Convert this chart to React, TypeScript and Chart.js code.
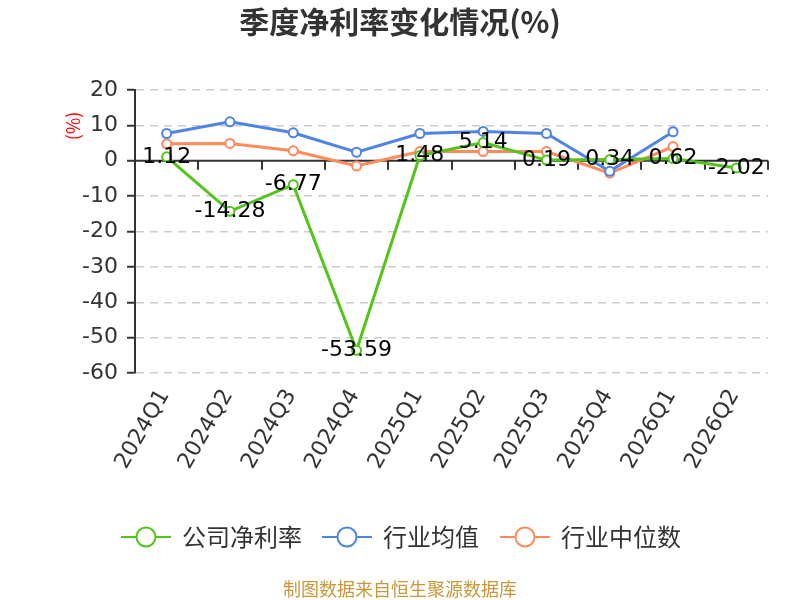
import { useEffect, useRef } from 'react';
import { Chart, registerables } from 'chart.js';

Chart.register(...registerables);

// 季度
const quarters = ['2024Q1', '2024Q2', '2024Q3', '2024Q4', '2025Q1', '2025Q2', '2025Q3', '2025Q4', '2026Q1', '2026Q2'];
// 公司净利率 (%)
const companyMargin = [1.12, -14.28, -6.77, -53.59, 1.48, 5.14, 0.19, 0.34, 0.62, -2.02];
// 行业均值 (%)
const industryAvg = [7.7, 11.0, 7.9, 2.4, 7.7, 8.3, 7.7, -3.0, 8.2, null];
// 行业中位数 (%)
const industryMedian = [4.8, 4.9, 2.8, -1.5, 2.6, 2.6, 2.6, -3.5, 4.0, null];
const yTicks = [20, 10, 0, -10, -20, -30, -40, -50, -60];

const GREEN = '#52c41a';
const BLUE = '#4f83e6';
const ORANGE = '#ff8a5b';
const CJK = "'Noto Sans CJK SC', 'Noto Sans', sans-serif";
const NUM = "'DejaVu Sans', sans-serif";

const legendItems = [
  { label: '公司净利率', color: GREEN, x: 121 },
  { label: '行业均值', color: BLUE, x: 322 },
  { label: '行业中位数', color: ORANGE, x: 500 },
];

// 标题、图例、零轴、数据标签
const decorPlugin = {
  id: 'decor',
  beforeDatasetsDraw(chart: Chart) {
    const { ctx, chartArea, scales } = chart;
    const y0 = scales.y.getPixelForValue(0);
    const band = (chartArea.right - chartArea.left) / quarters.length;
    ctx.save();
    ctx.strokeStyle = '#333';
    ctx.lineWidth = 2;
    ctx.beginPath();
    ctx.moveTo(chartArea.left, y0);
    ctx.lineTo(chartArea.right, y0);
    for (let i = 1; i <= quarters.length; i++) {
      const x = Math.round(chartArea.left + i * band);
      ctx.moveTo(x, y0);
      ctx.lineTo(x, y0 + 9);
    }
    ctx.stroke();
    ctx.restore();
  },
  afterDatasetsDraw(chart: Chart) {
    const { ctx } = chart;
    const meta = chart.getDatasetMeta(0);
    ctx.save();
    ctx.font = `22px ${NUM}`;
    ctx.fillStyle = '#000';
    ctx.textAlign = 'center';
    ctx.textBaseline = 'middle';
    meta.data.forEach((pt, i) => {
      ctx.fillText(String(companyMargin[i]), pt.x, pt.y);
    });
    ctx.restore();
  },
  afterDraw(chart: Chart) {
    const { ctx } = chart;
    ctx.save();
    ctx.fillStyle = '#333';
    ctx.font = `bold 30px ${CJK}`;
    ctx.textAlign = 'center';
    ctx.textBaseline = 'middle';
    ctx.fillText('季度净利率变化情况(%)', 400, 22);

    ctx.save();
    ctx.translate(73, 126);
    ctx.rotate(-Math.PI / 2);
    ctx.fillStyle = '#ff0000';
    ctx.font = `18px ${CJK}`;
    ctx.fillText('(%)', 0, 0);
    ctx.restore();

    legendItems.forEach((item) => {
      const cy = 537;
      ctx.strokeStyle = item.color;
      ctx.lineWidth = 2;
      ctx.beginPath();
      ctx.moveTo(item.x, cy);
      ctx.lineTo(item.x + 50, cy);
      ctx.stroke();
      ctx.beginPath();
      ctx.arc(item.x + 25, cy, 9.5, 0, Math.PI * 2);
      ctx.fillStyle = '#fff';
      ctx.fill();
      ctx.stroke();
      ctx.fillStyle = '#333';
      ctx.font = `24px ${CJK}`;
      ctx.textAlign = 'left';
      ctx.fillText(item.label, item.x + 61, cy);
    });

    ctx.fillStyle = '#c9973a';
    ctx.font = `18px ${CJK}`;
    ctx.textAlign = 'center';
    ctx.fillText('制图数据来自恒生聚源数据库', 400, 589);
    ctx.restore();
  },
};

const series = (label: string, data: (number | null)[], color: string) => ({
  label,
  data,
  borderColor: color,
  backgroundColor: '#fff',
  borderWidth: 3,
  pointRadius: 4.5,
  pointBorderWidth: 2,
  pointBackgroundColor: '#fff',
  pointBorderColor: color,
  tension: 0,
  spanGaps: false,
});

const App = () => {
  const canvasRef = useRef<HTMLCanvasElement>(null);

  useEffect(() => {
    if (!canvasRef.current) return;
    const chart = new Chart(canvasRef.current, {
      type: 'line',
      data: {
        labels: quarters,
        datasets: [
          series('公司净利率', companyMargin, GREEN),
          series('行业均值', industryAvg, BLUE),
          series('行业中位数', industryMedian, ORANGE),
        ],
      },
      options: {
        responsive: true,
        maintainAspectRatio: false,
        animation: false,
        layout: { padding: { top: 90, right: 32, left: 0, bottom: 0 } },
        plugins: {
          legend: { display: false },
          title: { display: false },
          tooltip: { enabled: false },
        },
        scales: {
          x: {
            offset: true,
            grid: { display: false },
            border: { display: false },
            ticks: {
              autoSkip: false,
              minRotation: 60,
              maxRotation: 60,
              padding: 4,
              labelOffset: -2,
              color: '#333',
              font: { family: NUM, size: 22 },
            },
            afterFit: (scale: any) => {
              scale.height = 227;
            },
          },
          y: {
            min: -60,
            max: 20,
            afterBuildTicks: (scale: any) => {
              scale.ticks = yTicks.map((v) => ({ value: v }));
            },
            grid: {
              color: (c: any) => (c.tick && c.tick.value === 0 ? 'rgba(0,0,0,0)' : '#cccccc'),
              lineWidth: 1.5,
              tickLength: 8,
              tickColor: '#333',
              tickBorderDash: [],
              tickWidth: 2,
            },
            border: { display: true, color: '#333', width: 2, dash: [8, 6] },
            ticks: {
              padding: 9,
              color: '#333',
              font: { family: NUM, size: 22 },
            },
            afterFit: (scale: any) => {
              scale.width = 135;
            },
          },
        },
      },
      plugins: [decorPlugin],
    });
    return () => {
      chart.destroy();
    };
  }, []);

  return (
    <div style={{ position: 'absolute', left: 0, top: 0, width: 800, height: 600, background: '#fff' }}>
      <canvas ref={canvasRef}></canvas>
    </div>
  );
};

export default App;
